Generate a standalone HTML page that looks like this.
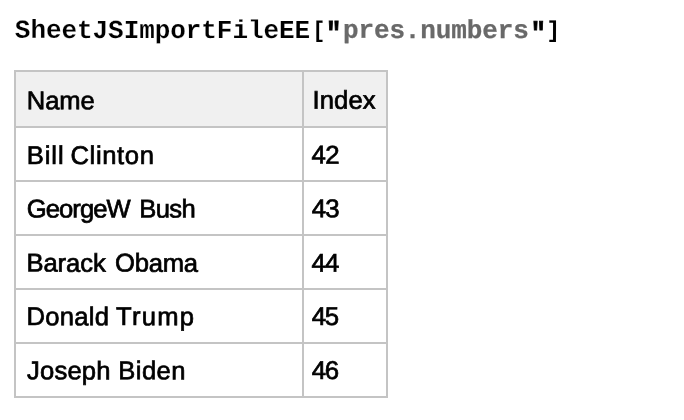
<!DOCTYPE html>
<html><head><meta charset="utf-8">
<title>SheetJSImportFileEE</title>
<style>
html,body{margin:0;padding:0;background:#fff;}
body{width:684px;height:420px;box-sizing:border-box;padding:70px 0 0 14px;overflow:hidden;position:relative;font-family:"Liberation Sans",sans-serif;color:#000;}
#code{margin:0;height:0;}
table{margin:0;border-collapse:collapse;}
td,th{border:2px solid #c4c4c4;padding:0;height:52px;}
th{background:#f0f0f0;height:54px;}
.c1{width:286px;}
.c2{width:82px;}
.w{position:absolute;left:0;top:0;white-space:pre;font-weight:normal;font-size:25.6px;line-height:30px;-webkit-text-stroke:0.7px #000;transform-origin:0 0;}
.n{font-size:25.8px;}
.m{font-family:"Liberation Mono",monospace;font-weight:bold;font-size:26px;-webkit-text-stroke:0.15px #fff;}
.g{color:#696969;-webkit-text-stroke:0.25px #696969;}
.q{-webkit-text-stroke:0.8px #000;}
.b{-webkit-text-stroke:0.1px #000;}
</style></head><body>
<table>
<tr><th class="c1"><span class="w" style="transform:translate(26.89px,85.19px) rotate(0.05deg);letter-spacing:-0.150px">Name</span></th><th class="c2"><span class="w" style="transform:translate(312.41px,84.81px) rotate(0.05deg);letter-spacing:0.142px">Index</span></th></tr>
<tr><td class="c1"><span class="w" style="transform:translate(26.69px,139.89px) rotate(0.05deg);letter-spacing:0.948px">Bill</span> <span class="w" style="transform:translate(70.50px,139.89px) rotate(0.05deg);letter-spacing:0.637px">Clinton</span></td><td class="c2"><span class="w n" style="transform:translate(311.54px,139.62px) rotate(0.05deg);letter-spacing:-0.567px">42</span></td></tr>
<tr><td class="c1"><span class="w" style="transform:translate(26.66px,193.52px) rotate(0.05deg);letter-spacing:-0.900px">GeorgeW</span> <span class="w" style="transform:translate(139.38px,193.52px) rotate(0.05deg);letter-spacing:-0.678px">Bush</span></td><td class="c2"><span class="w n" style="transform:translate(311.67px,193.13px) rotate(0.05deg);letter-spacing:-0.711px">43</span></td></tr>
<tr><td class="c1"><span class="w" style="transform:translate(26.43px,247.60px) rotate(0.05deg);letter-spacing:-0.061px">Barack</span> <span class="w" style="transform:translate(115.10px,247.60px) rotate(0.05deg);letter-spacing:-0.238px">Obama</span></td><td class="c2"><span class="w n" style="transform:translate(311.55px,247.81px) rotate(0.05deg);letter-spacing:-0.801px">44</span></td></tr>
<tr><td class="c1"><span class="w" style="transform:translate(26.40px,301.11px) rotate(0.05deg);letter-spacing:0.302px">Donald</span> <span class="w" style="transform:translate(116.11px,301.11px) rotate(0.05deg);letter-spacing:1.244px">Trump</span></td><td class="c2"><span class="w n" style="transform:translate(311.66px,301.06px) rotate(0.05deg);letter-spacing:-1.188px">45</span></td></tr>
<tr><td class="c1"><span class="w" style="transform:translate(27.07px,355.33px) rotate(0.05deg);letter-spacing:0.182px">Joseph</span> <span class="w" style="transform:translate(118.39px,355.33px) rotate(0.05deg);letter-spacing:0.421px">Biden</span></td><td class="c2"><span class="w n" style="transform:translate(311.67px,355.05px) rotate(0.05deg);letter-spacing:-1.152px">46</span></td></tr>
</table>
<div id="code"><span class="w m" style="transform:translate(14.88px,15.84px) rotate(0.05deg);letter-spacing:-0.064px">SheetJSImportFileEE</span><span class="w m b" style="transform:translate(312.59px,17.61px) rotate(0.05deg) scale(0.8086,0.8897);letter-spacing:0.000px">[</span><span class="w m q" style="transform:translate(326.07px,17.47px) rotate(0.05deg) scale(0.9810,1.1030);letter-spacing:0.000px">"</span><span class="w m g" style="transform:translate(342.94px,15.84px) rotate(0.05deg);letter-spacing:-0.116px">pres.numbers</span><span class="w m q" style="transform:translate(530.67px,17.65px) rotate(0.05deg) scale(0.9657,1.0904);letter-spacing:0.000px">"</span><span class="w m b" style="transform:translate(546.49px,17.74px) rotate(0.05deg) scale(0.8728,0.8841);letter-spacing:0.000px">]</span></div>
</body></html>
